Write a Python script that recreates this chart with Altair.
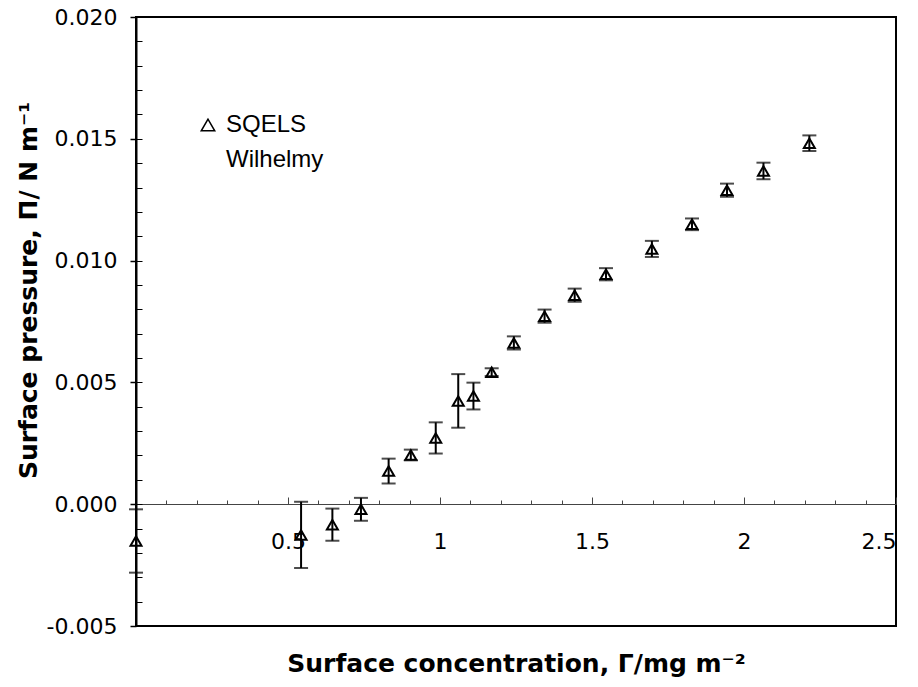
import altair as alt
import pandas as pd

FONT = "Liberation Sans"
TICK_FONT = "DejaVu Sans"
TITLE_FONT = "DejaVu Sans"

# ---- data ----
gamma = [0.0, 0.543, 0.646, 0.740, 0.831, 0.904, 0.986, 1.060, 1.110, 1.170,
         1.243, 1.344, 1.443, 1.546, 1.697, 1.829, 1.944, 2.064, 2.215]
pressure = [-0.00151, -0.00126, -0.00084, -0.00021, 0.00136, 0.00202, 0.00272,
            0.00424, 0.00444, 0.00542, 0.00662, 0.00772, 0.00858, 0.00944,
            0.01048, 0.01149, 0.01289, 0.01368, 0.01482]
error = [0.00130, 0.00136, 0.00066, 0.00047, 0.00051, 0.00022, 0.00064,
         0.00110, 0.00055, 0.00016, 0.00027, 0.00027, 0.00027, 0.00025,
         0.00033, 0.00024, 0.00027, 0.00034, 0.00032]
series_names = ["SQELS", "Wilhelmy"]

y_major = [-0.005, 0.0, 0.005, 0.010, 0.015, 0.020]
y_minor = [-0.005, -0.004, -0.003, -0.002, -0.001, 0.0, 0.001, 0.002, 0.003,
           0.004, 0.005, 0.006, 0.007, 0.008, 0.009, 0.010, 0.011, 0.012,
           0.013, 0.014, 0.015, 0.016, 0.017, 0.018, 0.019, 0.020]
x_labels = [0.5, 1.0, 1.5, 2.0, 2.5]
x_major = [0.0, 0.5, 1.0, 1.5, 2.0, 2.5]
x_minor = [0.0, 0.1, 0.2, 0.3, 0.4, 0.5, 0.6, 0.7, 0.8, 0.9, 1.0, 1.1, 1.2,
           1.3, 1.4, 1.5, 1.6, 1.7, 1.8, 1.9, 2.0, 2.1, 2.2, 2.3, 2.4, 2.5]

df = pd.DataFrame({"gamma": gamma, "pi": pressure, "err": error})
df["series"] = series_names[0]
df["lo"] = df["pi"] - df["err"]
df["hi"] = df["pi"] + df["err"]

W, H = 760, 609
xs = alt.Scale(domain=[0, 2.5], nice=False, zero=False)
ys = alt.Scale(domain=[-0.005, 0.02], nice=False, zero=False)
AXIS_Y0 = 487  # pixel offset of y=0 from the top of the plot

base = alt.Chart(df)

rules = base.mark_rule(color="black", strokeWidth=2).encode(
    x=alt.X("gamma:Q", scale=xs, axis=alt.Axis(
        orient="top", offset=-AXIS_Y0, values=x_minor, tickSize=4, labels=False,
        title=None, domain=True, domainColor="#444444", domainWidth=1,
        tickColor="#444444", tickWidth=1, grid=False)),
    y=alt.Y("lo:Q", scale=ys, axis=alt.Axis(
        orient="right", offset=-W, values=y_minor, tickSize=6, labels=False,
        domain=False, title=None, tickColor="black", tickWidth=1, grid=False)),
    y2="hi:Q",
)

caps_lo = base.mark_tick(color="black", thickness=2, size=14, orient="horizontal").encode(
    x=alt.X("gamma:Q", scale=xs, axis=alt.Axis(
        orient="top", offset=-AXIS_Y0, values=x_major, tickSize=7, labels=False,
        domain=False, title=None, tickColor="#444444", tickWidth=1, grid=False)),
    y=alt.Y("lo:Q", scale=ys, axis=None),
)

caps_hi = base.mark_tick(color="black", thickness=2, size=14, orient="horizontal").encode(
    x=alt.X("gamma:Q", scale=xs, axis=None),
    y=alt.Y("hi:Q", scale=ys, axis=None),
)

legend = alt.Legend(
    title=None, orient="none", legendX=60, legendY=96, padding=0,
    labelFont=FONT, labelFontSize=24, labelColor="black", labelOffset=6,
    symbolSize=182, symbolStrokeWidth=1.5, rowPadding=11,
)

points = base.mark_point(shape="triangle-up", filled=False, size=121,
                         strokeWidth=2, opacity=1).encode(
    x=alt.X("gamma:Q", scale=xs, axis=alt.Axis(
        orient="bottom", offset=-(H - AXIS_Y0), values=x_labels, format="~g",
        ticks=False, tickSize=0, domain=False, labelPadding=27,
        labelFont=TICK_FONT, labelFontSize=22, labelColor="black",
        title="Surface concentration, \u0393/mg m\u207b\u00b2", titleFont=TITLE_FONT,
        titleFontSize=25, titleFontWeight="bold", titleColor="black",
        titleY=159, titleBaseline="middle", grid=False)),
    y=alt.Y("pi:Q", scale=ys, axis=alt.Axis(
        orient="left", values=y_major,
        labelExpr="datum.value < 0 ? '-' + format(-datum.value, '.3f') : format(datum.value, '.3f')",
        tickSize=6, tickColor="black", tickWidth=1.5, domainColor="black",
        domainWidth=2, labelPadding=13, labelFont=TICK_FONT, labelFontSize=22,
        labelColor="black", title="Surface pressure, \u03a0/ N m\u207b\u00b9",
        titleFont=TITLE_FONT, titleFontSize=25, titleFontWeight="bold",
        titleColor="black", titleX=-108, titleY=273, titleAngle=270,
        titleAlign="center", titleBaseline="middle", grid=False)),
    shape=alt.Shape("series:N", scale=alt.Scale(domain=series_names,
                    range=["triangle-up", "triangle-up"]), legend=legend),
    stroke=alt.Stroke("series:N", scale=alt.Scale(domain=series_names,
                      range=["black", "white"]), legend=legend),
)

chart = alt.layer(rules, caps_lo, caps_hi, points).resolve_scale(
    x="independent", y="independent"
).properties(
    width=W, height=H,
    autosize=alt.AutoSizeParams(type="none"),
    padding={"left": 128, "top": 9, "right": 14, "bottom": 53},
    background="white",
).configure_view(
    stroke="black", strokeWidth=2
)

chart.save("out.html", embed_options={"renderer": "svg", "actions": False})
